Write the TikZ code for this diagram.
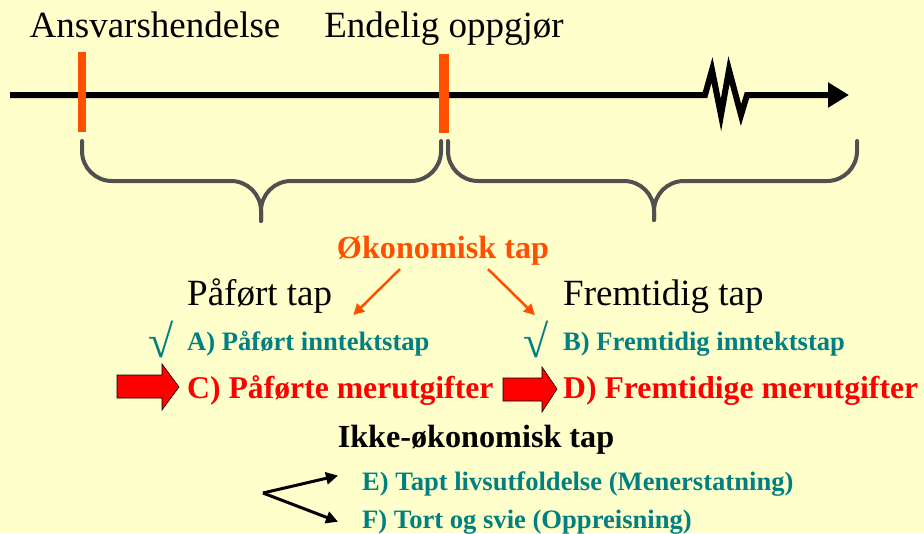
\documentclass[tikz,border=0pt]{standalone}
\usepackage{fontspec}
\setmainfont{Liberation Serif}
\usetikzlibrary{arrows.meta}

\definecolor{bgyellow}{RGB}{255,255,204}
\definecolor{tickorange}{RGB}{255,80,0}
\definecolor{tealtxt}{RGB}{0,128,128}
\definecolor{bracegrey}{RGB}{80,80,80}

\begin{document}
\begin{tikzpicture}[
        x=1pt, y=-1pt,
        every node/.style={inner sep=0pt, anchor=base west},
        bigtxt/.style={font=\fontsize{37}{40}\selectfont},
        headtxt/.style={font=\fontsize{32.2}{34}\selectfont\bfseries},
        itemtxt/.style={font=\fontsize{26.6}{28}\selectfont\bfseries, text=tealtxt},
        costtxt/.style={font=\fontsize{31.7}{34}\selectfont\bfseries, text=red},
        checktxt/.style={anchor=base, font=\fontsize{46}{46}\selectfont, text=tealtxt},
        timeline/.style={line width=6pt, -{Triangle[length=21pt, width=24pt]}},
        tickmark/.style={tickorange, line cap=butt},
        bracepath/.style={bracegrey, line width=4pt, line cap=round, rounded corners=30pt},
        orangearrow/.style={tickorange, line width=2.5pt, -{Triangle[length=11pt, width=11pt]}},
        blockarrow/.style={fill=red, draw=black, line width=0.6pt},
        blackarrow/.style={line width=3pt, -{Triangle[length=12pt, width=12pt]}}
      ]

    % background and margins
    \fill[bgyellow] (0,0) rectangle (924,533);
    \useasboundingbox (0,0) rectangle (924,533);

    % time line with break
    \draw[timeline] (10,95) -- (705,95) -- (712,70) -- (721,115) -- (729,70) -- (741,115) -- (747,95) -- (849,95);
    \draw[tickmark, line width=8pt] (82,52) -- (82,132);
    \draw[tickmark, line width=10pt] (444,54) -- (444,133);

    \node[bigtxt, anchor=base] (event) at (155,37) {Ansvarshendelse};
    \node[bigtxt, anchor=base] (settle) at (444,37) {Endelig oppgjør};

    % braces
    \draw[bracepath] (82,141) -- (82,181) -- (261,181) -- (261,221);
    \draw[bracepath] (441,141) -- (441,181) -- (261,181) -- (261,221);
    \draw[bracepath] (448,141) -- (448,181) -- (654,181) -- (654,220);
    \draw[bracepath] (857,141) -- (857,181) -- (654,181) -- (654,220);

    % economic loss
    \node[headtxt, text=tickorange, anchor=base] (econ) at (443,258) {Økonomisk tap};
    \node[bigtxt] (past) at (187,305) {Påført tap};
    \node[bigtxt] (future) at (563,305) {Fremtidig tap};

    \draw[orangearrow] ([xshift=-43pt, yshift=-4pt]econ.south) -- ([xshift=21pt, yshift=-2pt]past.south east);
    \draw[orangearrow] ([xshift=45pt, yshift=-4pt]econ.south) -- ([xshift=-28pt, yshift=-2pt]future.south west);

    \node[itemtxt] (itemA) at (187,350) {A) Påført inntektstap};
    \node[itemtxt] (itemB) at (563,350) {B) Fremtidig inntektstap};
    \node[checktxt] (checkA) at (161,357) {√};
    \node[checktxt] (checkB) at (536,357) {√};

    \filldraw[blockarrow] (117,375) -- (162,375) -- (162,364) -- (179,387) -- (162,410) -- (162,398) -- (117,398) -- cycle;
    \filldraw[blockarrow] (503,378) -- (542,378) -- (542,367) -- (557,389) -- (542,412) -- (542,401) -- (503,401) -- cycle;
    \node[costtxt] (itemC) at (187,398) {C) Påførte merutgifter};
    \node[costtxt] (itemD) at (563,398) {D) Fremtidige merutgifter};

    % non-economic loss
    \node[headtxt, anchor=base] (nonecon) at (476,447) {Ikke-økonomisk tap};
    \node[itemtxt] (itemE) at (362,490) {E) Tapt livsutfoldelse (Menerstatning)};
    \node[itemtxt] (itemF) at (362,528) {F) Tort og svie (Oppreisning)};

    \coordinate (split) at (263,493);
    \draw[blackarrow] (split) -- ([xshift=-24pt, yshift=8pt]itemE.west);
    \draw[blackarrow] (split) -- ([xshift=-24pt, yshift=0pt]itemF.west);

\end{tikzpicture}
\end{document}
